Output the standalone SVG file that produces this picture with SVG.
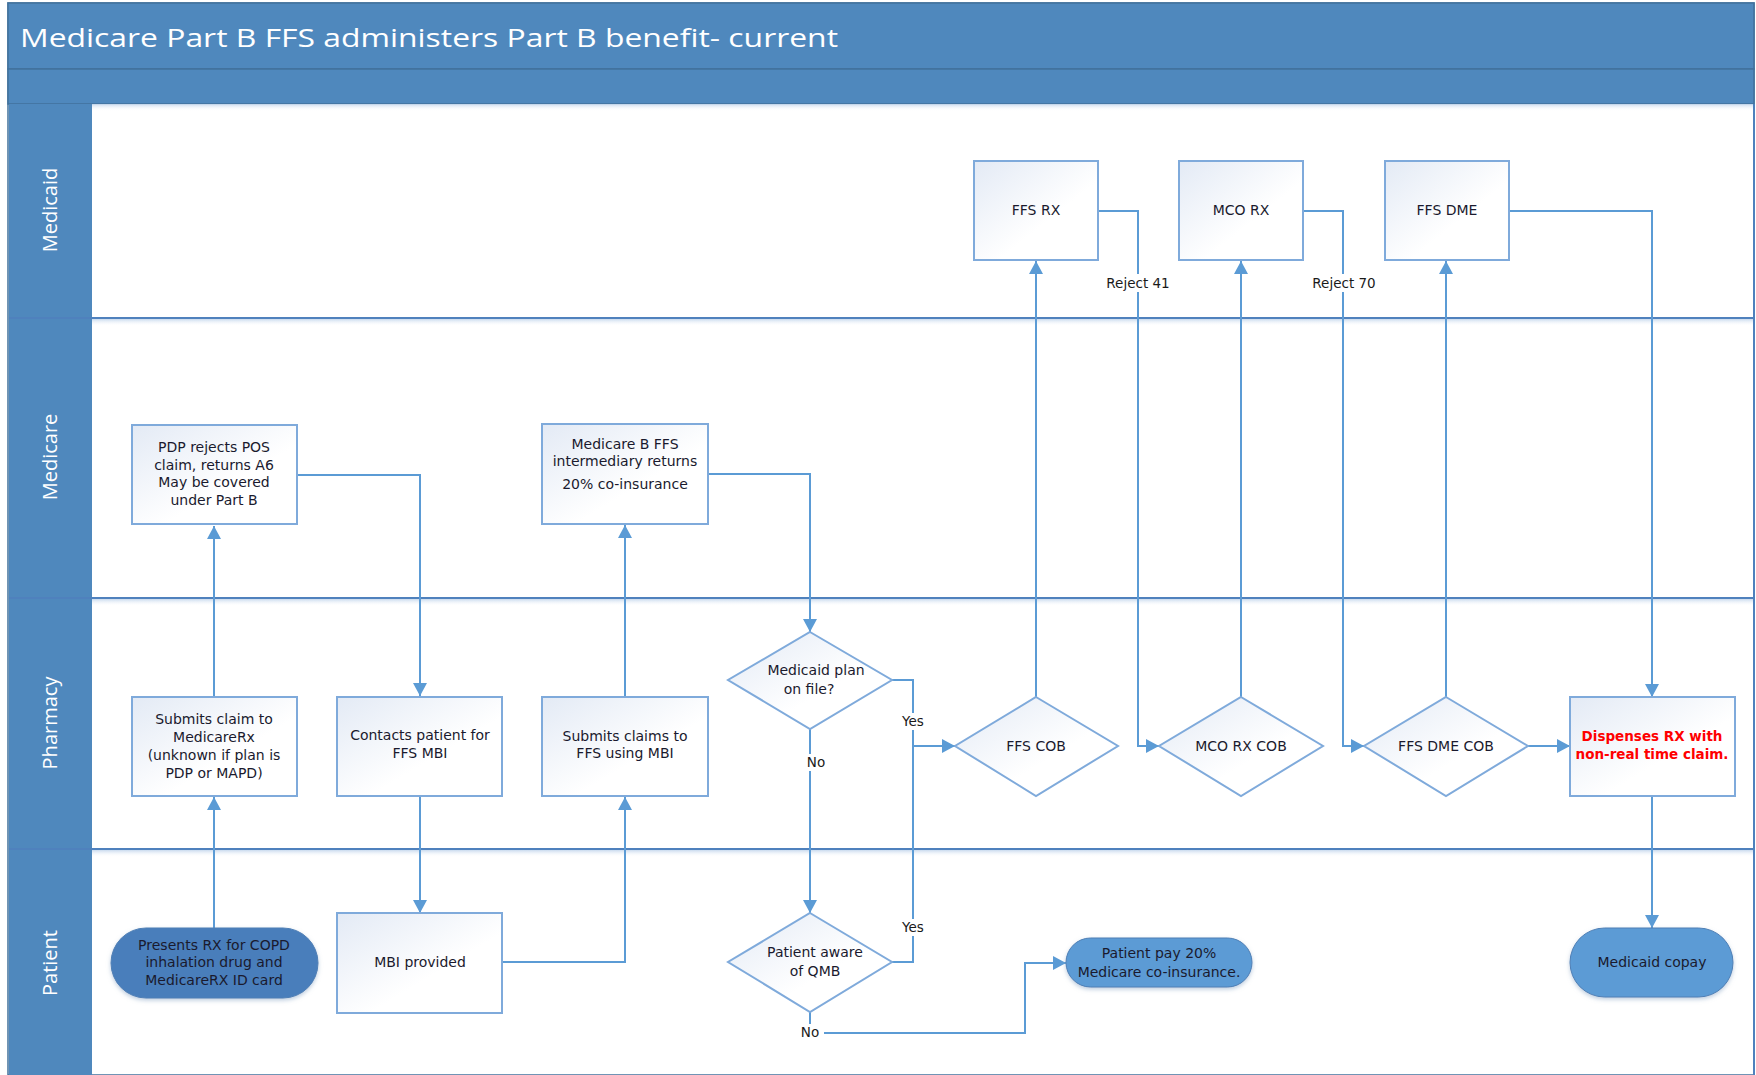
<svg xmlns="http://www.w3.org/2000/svg" width="1756" height="1075" viewBox="0 0 1756 1075">
<defs>
<linearGradient id="boxg" x1="0" y1="0" x2="1" y2="1">
<stop offset="0" stop-color="#E3EAF5"/>
<stop offset="0.6" stop-color="#FFFFFF"/>
</linearGradient>
<linearGradient id="shade" x1="0" y1="0" x2="0" y2="1">
<stop offset="0" stop-color="#C9DAEE"/>
<stop offset="1" stop-color="#FFFFFF" stop-opacity="0"/>
</linearGradient>
<marker id="arr" markerUnits="userSpaceOnUse" markerWidth="14" markerHeight="14" refX="13" refY="7" orient="auto">
<path d="M0,0 L13,7 L0,14 z" fill="#5B9BD5"/>
</marker>
<filter id="sh" x="-10%" y="-20%" width="120%" height="150%">
<feDropShadow dx="0" dy="2" stdDeviation="2" flood-color="#7F9DC0" flood-opacity="0.5"/>
</filter>
</defs>
<style>
.box{fill:url(#boxg);stroke:#7FAADB;stroke-width:2}
.term{stroke:#4F7FB5;stroke-width:1}
.t{font-family:"DejaVu Sans","Open Sans",sans-serif;font-size:14px;fill:#1A1A2E;text-anchor:middle}
.lbl{font-family:"DejaVu Sans","Open Sans",sans-serif;font-size:13.5px;fill:#1A1A1A;text-anchor:middle}
.lane{font-family:"Open Sans","DejaVu Sans",sans-serif;font-size:20px;fill:#FFFFFF;text-anchor:middle}
.c{fill:none;stroke:#5B9BD5;stroke-width:2}
.div{stroke:#4F81BD;stroke-width:2}
</style>
<rect x="0" y="0" width="1756" height="1075" fill="#FFFFFF"/>
<g id="pool">
<rect x="8" y="3" width="1746" height="1072" fill="#FFFFFF" stroke="#41719C" stroke-width="1.5"/>
<rect x="8" y="3" width="1746" height="66" fill="#4F88BD" stroke="#41719C" stroke-width="1.5"/>
<rect x="8" y="69" width="1746" height="35" fill="#4F88BD" stroke="#41719C" stroke-width="1.5"/>
<rect x="9" y="104" width="83" height="971" fill="#4F88BD"/>
<text x="20" y="47" font-family="Open Sans, DejaVu Sans, sans-serif" font-size="26" fill="#FFFFFF" textLength="818" lengthAdjust="spacingAndGlyphs">Medicare Part B FFS administers Part B benefit- current</text>
<rect x="92" y="104" width="1662" height="7" fill="url(#shade)"/>
<rect x="92" y="319" width="1662" height="7" fill="url(#shade)"/>
<rect x="92" y="599" width="1662" height="7" fill="url(#shade)"/>
<rect x="92" y="850" width="1662" height="7" fill="url(#shade)"/>
<line class="div" x1="9" y1="318" x2="1754" y2="318"/>
<line class="div" x1="9" y1="598" x2="1754" y2="598"/>
<line class="div" x1="9" y1="849" x2="1754" y2="849"/>
<line x1="1754" y1="104" x2="1754" y2="1075" stroke="#4F81BD" stroke-width="2"/>
<text class="lane" transform="translate(57,210) rotate(-90)">Medicaid</text>
<text class="lane" transform="translate(57,457) rotate(-90)">Medicare</text>
<text class="lane" transform="translate(57,723) rotate(-90)">Pharmacy</text>
<text class="lane" transform="translate(57,963) rotate(-90)">Patient</text>
</g>
<g id="connectors">
<path class="c" d="M214,928 V797" marker-end="url(#arr)"/>
<path class="c" d="M214,696 V526" marker-end="url(#arr)"/>
<path class="c" d="M297,475 H420 V696" marker-end="url(#arr)"/>
<path class="c" d="M420,796 V913" marker-end="url(#arr)"/>
<path class="c" d="M502,962 H625 V797" marker-end="url(#arr)"/>
<path class="c" d="M625,697 V525" marker-end="url(#arr)"/>
<path class="c" d="M708,474 H810 V632" marker-end="url(#arr)"/>
<path class="c" d="M810,729 V913" marker-end="url(#arr)"/>
<path class="c" d="M892,680 H913 V746 H955" marker-end="url(#arr)"/>
<path class="c" d="M892,962 H913 V746"/>
<path class="c" d="M810,1012 V1033 H1025 V963 H1066" marker-end="url(#arr)"/>
<path class="c" d="M1036,697 V261" marker-end="url(#arr)"/>
<path class="c" d="M1098,211 H1138 V746 H1159" marker-end="url(#arr)"/>
<path class="c" d="M1241,697 V261" marker-end="url(#arr)"/>
<path class="c" d="M1303,211 H1343 V746 H1364" marker-end="url(#arr)"/>
<path class="c" d="M1446,697 V261" marker-end="url(#arr)"/>
<path class="c" d="M1528,746 H1570" marker-end="url(#arr)"/>
<path class="c" d="M1509,211 H1652 V697" marker-end="url(#arr)"/>
<path class="c" d="M1652,796 V928" marker-end="url(#arr)"/>
<rect x="1100" y="274" width="76" height="18" fill="#FFFFFF"/>
<text class="lbl" x="1138" y="288">Reject 41</text>
<rect x="1306" y="274" width="76" height="18" fill="#FFFFFF"/>
<text class="lbl" x="1344" y="288">Reject 70</text>
<rect x="898" y="713" width="30" height="17" fill="#FFFFFF"/>
<text class="lbl" x="913" y="726">Yes</text>
<rect x="802" y="754" width="28" height="17" fill="#FFFFFF"/>
<text class="lbl" x="816" y="767">No</text>
<rect x="898" y="919" width="30" height="17" fill="#FFFFFF"/>
<text class="lbl" x="913" y="932">Yes</text>
<rect x="796" y="1024" width="28" height="17" fill="#FFFFFF"/>
<text class="lbl" x="810" y="1037">No</text>
</g>
<g id="n-ffsrx"><rect class="box" x="974" y="161" width="124" height="99"/><text class="t" x="1036" y="215">FFS RX</text></g>
<g id="n-mcorx"><rect class="box" x="1179" y="161" width="124" height="99"/><text class="t" x="1241" y="215">MCO RX</text></g>
<g id="n-ffsdme"><rect class="box" x="1385" y="161" width="124" height="99"/><text class="t" x="1447" y="215">FFS DME</text></g>
<g id="n-pdp"><rect class="box" x="132" y="425" width="165" height="99"/>
<text class="t" x="214" y="452">PDP rejects POS</text><text class="t" x="214" y="470">claim, returns A6</text><text class="t" x="214" y="487">May be covered</text><text class="t" x="214" y="505">under Part B</text></g>
<g id="n-medb"><rect class="box" x="542" y="424" width="166" height="100"/>
<text class="t" x="625" y="449">Medicare B FFS</text><text class="t" x="625" y="466">intermediary returns</text><text class="t" x="625" y="489">20% co-insurance</text></g>
<g id="n-submit1"><rect class="box" x="132" y="697" width="165" height="99"/>
<text class="t" x="214" y="724">Submits claim to</text><text class="t" x="214" y="742">MedicareRx</text><text class="t" x="214" y="760">(unknown if plan is</text><text class="t" x="214" y="778">PDP or MAPD)</text></g>
<g id="n-contacts"><rect class="box" x="337" y="697" width="165" height="99"/>
<text class="t" x="420" y="740">Contacts patient for</text><text class="t" x="420" y="758">FFS MBI</text></g>
<g id="n-submit2"><rect class="box" x="542" y="697" width="166" height="99"/>
<text class="t" x="625" y="741">Submits claims to</text><text class="t" x="625" y="758">FFS using MBI</text></g>
<g id="n-plan"><polygon class="box" points="810,632 892,680 810,729 728,680"/>
<text class="t" x="816" y="675">Medicaid plan</text><text class="t" x="809" y="694">on file?</text></g>
<g id="n-ffscob"><polygon class="box" points="1036,697 1118,746 1036,796 955,746"/><text class="t" x="1036" y="751">FFS COB</text></g>
<g id="n-mcocob"><polygon class="box" points="1241,697 1323,746 1241,796 1159,746"/><text class="t" x="1241" y="751">MCO RX COB</text></g>
<g id="n-dmecob"><polygon class="box" points="1446,697 1528,746 1446,796 1364,746"/><text class="t" x="1446" y="751">FFS DME COB</text></g>
<g id="n-dispense"><rect class="box" x="1570" y="697" width="165" height="99"/>
<text class="t" x="1652" y="741" style="fill:#FF0000;font-weight:bold;font-size:13.5px">Dispenses RX with</text><text class="t" x="1652" y="759" style="fill:#FF0000;font-weight:bold;font-size:13.5px">non-real time claim.</text></g>
<g id="n-presents"><rect class="term" x="111" y="928" width="207" height="70" rx="35" fill="#4A7EBB" filter="url(#sh)"/>
<text class="t" x="214" y="950">Presents RX for COPD</text><text class="t" x="214" y="967">inhalation drug and</text><text class="t" x="214" y="985">MedicareRX ID card</text></g>
<g id="n-mbi"><rect class="box" x="337" y="913" width="165" height="100"/><text class="t" x="420" y="967">MBI provided</text></g>
<g id="n-qmb"><polygon class="box" points="810,913 892,962 810,1012 728,962"/>
<text class="t" x="815" y="957">Patient aware</text><text class="t" x="815" y="976">of QMB</text></g>
<g id="n-pay"><rect class="term" x="1066" y="938" width="186" height="49" rx="24.5" fill="#5B9BD5" stroke="#5B9BD5" filter="url(#sh)"/>
<text class="t" x="1159" y="958">Patient pay 20%</text><text class="t" x="1159" y="977">Medicare co-insurance.</text></g>
<g id="n-copay"><rect class="term" x="1570" y="928" width="163" height="69" rx="34.5" fill="#5B9BD5" stroke="#5B9BD5" filter="url(#sh)"/>
<text class="t" x="1652" y="967">Medicaid copay</text></g>
</svg>
